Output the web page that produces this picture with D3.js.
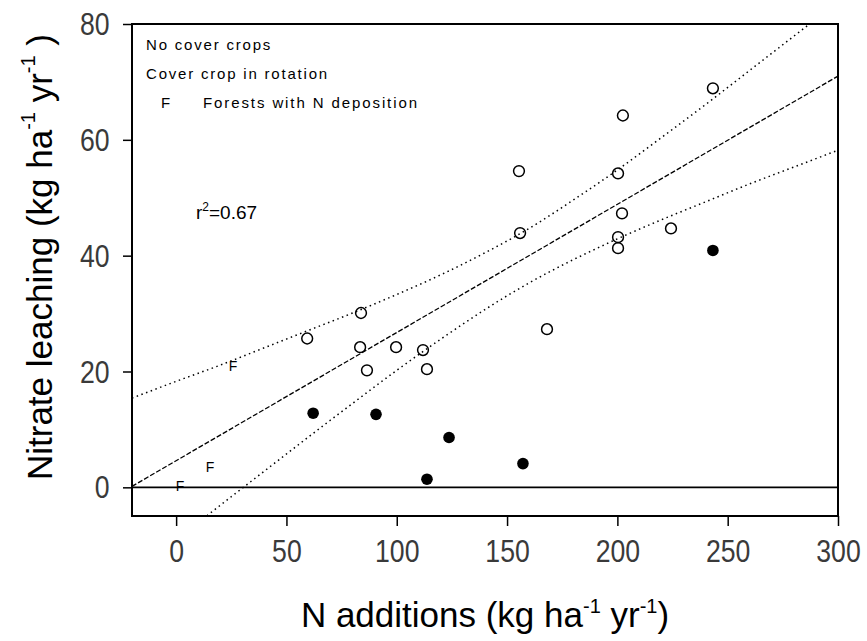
<html>
  <head>
    <meta charset="utf-8" />
    <script src="https://cdnjs.cloudflare.com/ajax/libs/d3/7.6.1/d3.min.js"></script>
    <style>
      body { margin: 0; background: #fff; }
      svg { font-family: Arial, "Liberation Sans", sans-serif; }
    </style>
  </head>
  <body>
    <svg width="867" height="641"></svg>
  </body>
  <script>
    // cover crop in rotation (open circles)
    const openX = [59.4, 83.8, 83.4, 99.7, 111.9, 86.5, 113.7, 155.4, 155.9, 168.1, 202.5, 200.3, 202.1, 200.3, 200.3, 224.3, 243.3];
    const openY = [25.7, 30.1, 24.2, 24.2, 23.7, 20.2, 20.4, 54.6, 43.9, 27.3, 64.2, 54.2, 47.3, 43.2, 41.3, 44.7, 68.9];
    // no cover crops (filled)
    const fillX = [62.1, 90.6, 123.7, 113.7, 157.2, 243.3];
    const fillY = [12.8, 12.6, 8.6, 1.4, 4.1, 40.9];
    // forests with N deposition
    const forX = [25.8, 15.4, 1.8];
    const forY = [20.9, 3.5, 0.2];
    // regression line ends and confidence bands
    const fitX = [-20, 300];
    const fitY = [0.17, 71.0];
    const bandX = [-20, 0, 20, 40, 60, 80, 100, 120, 140, 160, 180, 200, 220, 240, 260, 280, 300];
    const bandUp = [15.4, 18.3, 21.1, 24.1, 27.1, 30.1, 33.3, 36.7, 40.5, 44.7, 49.6, 54.8, 60.4, 66.1, 72.0, 77.9, 83.8];
    const bandLo = [-15.0, -9.1, -3.1, 2.8, 8.7, 14.5, 20.2, 25.6, 30.7, 35.3, 39.3, 42.9, 46.2, 49.3, 52.4, 55.3, 58.2];
    const xTicks = [0, 50, 100, 150, 200, 250, 300];
    const yTicks = [0, 20, 40, 60, 80];
    const legendItems = ["No cover crops", "Cover crop in rotation"];

    const svg = d3.select("svg");
    const L = 132, R = 838, T = 24, B = 516;
    const x = d3.scaleLinear().domain([-20, 300]).range([L, R]);
    const y = d3.scaleLinear().domain([-4.95, 80]).range([B, T]);

    svg.append("clipPath").attr("id", "clip")
      .append("rect").attr("x", L).attr("y", T).attr("width", R - L).attr("height", B - T);
    const plot = svg.append("g").attr("clip-path", "url(#clip)");

    // zero line
    plot.append("line")
      .attr("x1", L).attr("x2", R).attr("y1", y(0)).attr("y2", y(0))
      .attr("stroke", "#000").attr("stroke-width", 1.6);

    const line = d3.line().x((d) => x(d[0])).y((d) => y(d[1])).curve(d3.curveMonotoneX);
    plot.append("path")
      .attr("d", line(d3.zip(bandX, bandUp)))
      .attr("fill", "none").attr("stroke", "#000").attr("stroke-width", 1.5)
      .attr("stroke-dasharray", "1.5,3.5");
    plot.append("path")
      .attr("d", line(d3.zip(bandX, bandLo)))
      .attr("fill", "none").attr("stroke", "#000").attr("stroke-width", 1.5)
      .attr("stroke-dasharray", "1.5,3.5");
    plot.append("path")
      .attr("d", d3.line().x((d) => x(d[0])).y((d) => y(d[1]))(d3.zip(fitX, fitY)))
      .attr("fill", "none").attr("stroke", "#000").attr("stroke-width", 1.3)
      .attr("stroke-dasharray", "5,2");

    plot.selectAll("circle.open")
      .data(d3.zip(openX, openY))
      .enter().append("circle")
      .attr("class", "open")
      .attr("cx", (d) => x(d[0])).attr("cy", (d) => y(d[1]))
      .attr("r", 5.4)
      .attr("fill", "none").attr("stroke", "#000").attr("stroke-width", 1.5);

    plot.selectAll("circle.fill")
      .data(d3.zip(fillX, fillY))
      .enter().append("circle")
      .attr("class", "fill")
      .attr("cx", (d) => x(d[0])).attr("cy", (d) => y(d[1]))
      .attr("r", 5.8)
      .attr("fill", "#000");

    plot.selectAll("text.f")
      .data(d3.zip(forX, forY))
      .enter().append("text")
      .attr("class", "f")
      .attr("x", (d) => x(d[0])).attr("y", (d) => y(d[1]))
      .attr("dy", "0.36em")
      .attr("text-anchor", "middle")
      .attr("font-size", 14)
      .text("F");

    // frame
    svg.append("rect")
      .attr("x", L).attr("y", T).attr("width", R - L).attr("height", B - T)
      .attr("fill", "none").attr("stroke", "#000").attr("stroke-width", 2);

    // axes (tick labels squeezed a bit to look like the narrow original)
    const xAxis = d3.axisBottom(x).tickValues(xTicks).tickSize(10).tickPadding(14);
    const gx = svg.append("g").attr("transform", `translate(0,${B})`).call(xAxis);
    const yAxis = d3.axisLeft(y).tickValues(yTicks).tickSize(9).tickPadding(12);
    const gy = svg.append("g").attr("transform", `translate(${L},0)`).call(yAxis);
    [gx, gy].forEach((g) => {
      g.select(".domain").remove();
      g.selectAll("line").attr("stroke", "#000").attr("stroke-width", 1.5);
      g.selectAll("text")
        .attr("font-family", "Arial, 'Liberation Sans', sans-serif")
        .attr("font-size", 31)
        .attr("fill", "#3a3a3a")
        .attr("transform", "scale(0.86,1)");
    });
    gy.selectAll("text").attr("x", -26).attr("dy", "0.34em");

    // axis titles
    const xt = svg.append("text")
      .attr("x", 485).attr("y", 627)
      .attr("text-anchor", "middle")
      .attr("font-size", 35);
    xt.append("tspan").text("N additions (kg ha");
    xt.append("tspan").attr("font-size", 20).attr("dy", -14).text("-1");
    xt.append("tspan").attr("dy", 14).text(" yr");
    xt.append("tspan").attr("font-size", 20).attr("dy", -14).text("-1");
    xt.append("tspan").attr("dy", 14).text(")");

    const yt = svg.append("text")
      .attr("transform", "translate(52,257) rotate(-90)")
      .attr("text-anchor", "middle")
      .attr("font-size", 35);
    yt.append("tspan").text("Nitrate leaching (kg ha");
    yt.append("tspan").attr("font-size", 20).attr("dy", -17).text("-1");
    yt.append("tspan").attr("dy", 17).text("  yr");
    yt.append("tspan").attr("font-size", 20).attr("dy", -17).text("-1");
    yt.append("tspan").attr("dy", 17).text(" )");

    // legend
    svg.selectAll("text.leg")
      .data(legendItems)
      .enter().append("text")
      .attr("class", "leg")
      .attr("x", 146).attr("y", (d, i) => 50 + i * 29)
      .attr("font-size", 15)
      .attr("letter-spacing", 1.8)
      .text((d) => d);
    svg.append("text").attr("x", 161).attr("y", 108).attr("font-size", 15).text("F");
    svg.append("text").attr("x", 203).attr("y", 108).attr("font-size", 15)
      .attr("letter-spacing", 1.9).text("Forests with N deposition");

    // r squared
    const r2 = svg.append("text").attr("x", 196).attr("y", 219).attr("font-size", 19);
    r2.append("tspan").text("r");
    r2.append("tspan").attr("font-size", 12).attr("dy", -8).text("2");
    r2.append("tspan").attr("dy", 8).text("=0.67");
  </script>
</html>
